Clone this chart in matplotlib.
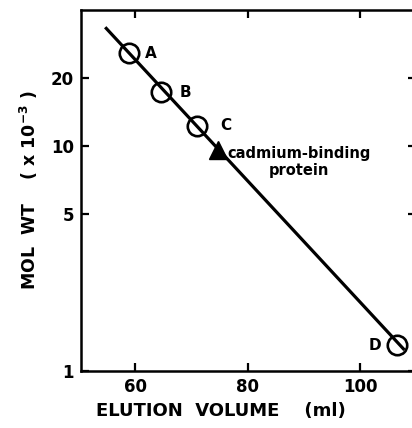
import matplotlib
matplotlib.use("Agg")
import matplotlib.pyplot as plt

# Data
std_labels = ["A", "B", "C", "D"]
std_volume = [58.9, 64.7, 71.1, 106.6]
std_molwt = [25.8, 17.3, 12.3, 1.30]

cd_volume = [74.7]
cd_molwt = [9.6]

fit_volume = [54.7, 107.9]
fit_molwt = [33.7, 1.24]

x_ticks = [60, 80, 100]
y_ticks = [1, 5, 10, 20]
y_ticklabels = ["1", "5", "10", "20"]

plt.rcParams['font.family'] = ['DejaVu Sans']

fig = plt.figure(figsize=(4.12, 4.28), dpi=100)
ax = fig.add_axes([81/412, 1 - 371/428, (416 - 81)/412, (371 - 10)/428])

ax.plot(fit_volume, fit_molwt, color="black", lw=2.3, solid_capstyle="butt", zorder=2)
ax.plot(std_volume, std_molwt, linestyle="none", marker="o", markersize=14,
        markerfacecolor="none", markeredgecolor="black", markeredgewidth=1.9, zorder=3)
ax.plot(cd_volume, cd_molwt, linestyle="none", marker="^", markersize=13,
        color="black", zorder=3)

label_offsets = {"A": (22, 0), "B": (24, 0), "C": (28, 0), "D": (-22, 0)}
for lab, xv, yv in zip(std_labels, std_volume, std_molwt):
    dx, dy = label_offsets[lab]
    ax.annotate(lab, (xv, yv), xytext=(dx, dy), textcoords="offset pixels",
                ha="center", va="center", fontsize=11, fontweight="bold")

ax.annotate("cadmium-binding\nprotein", (cd_volume[0], cd_molwt[0]),
            xytext=(10, -12), textcoords="offset pixels", ha="left", va="center",
            fontsize=10.5, fontweight="bold", multialignment="center",
            linespacing=1.2)

ax.set_yscale("log")
ax.set_xlim(50.4, 109.95)
ax.set_ylim(1, 40.2)
ax.set_xticks(x_ticks)
ax.set_xticklabels([str(v) for v in x_ticks])
ax.set_yticks(y_ticks)
ax.set_yticklabels(y_ticklabels)
ax.yaxis.set_minor_locator(matplotlib.ticker.NullLocator())

ax.tick_params(direction="in", length=6, width=1.6, top=True, right=True,
               labelsize=12, pad=5)
for lbl in ax.get_xticklabels() + ax.get_yticklabels():
    lbl.set_fontweight("bold")
for sp in ax.spines.values():
    sp.set_linewidth(1.8)

ax.set_xlabel("ELUTION  VOLUME    (ml)", fontsize=13, fontweight="bold", labelpad=6)
ax.xaxis.set_label_coords((221 - 81) / 335, -0.085)
ax.set_ylabel(r"MOL  WT    ( x 10$^{\mathbf{-3}}$ )", fontsize=12.5, fontweight="bold",
              labelpad=8)

fig.savefig("out.png", dpi=100)
